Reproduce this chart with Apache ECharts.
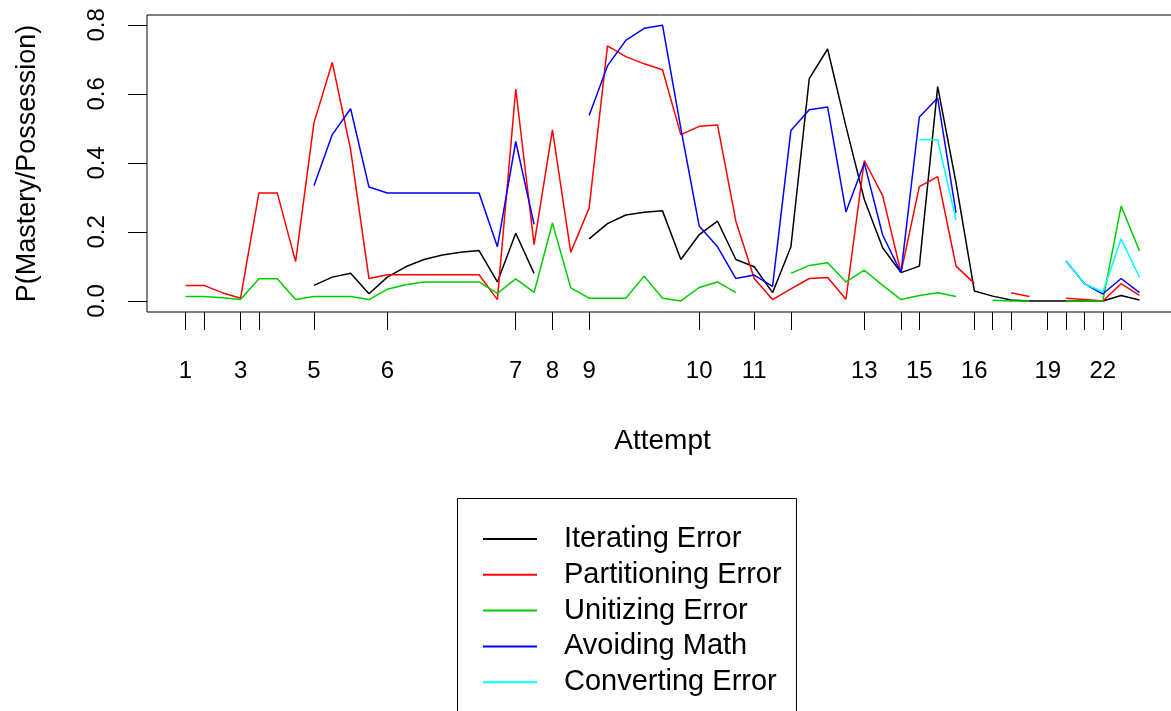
<!DOCTYPE html>
<html>
  <head>
    <meta charset="UTF-8" />
    <title>Mastery per attempt</title>
    <script src="https://cdn.jsdelivr.net/npm/echarts@6.0.0/dist/echarts.min.js"></script>
    <style>
      body { margin: 0; background: #fff; }
    </style>
  </head>
  <body>
    <div id="masteryChart" style="width: 1171px; height: 711px"></div>
  </body>
  <script>
    // x position (observation index) where each attempt starts
    const attemptStart = [1, 2, 4, 5, 8, 12, 19, 21, 23, 29, 32, 34, 38, 40, 41, 44, 45, 46, 48, 49, 50, 51, 52];
    const attemptLabels = ["1", "2", "3", "4", "5", "6", "7", "8", "9", "10", "11", "12", "13", "14", "15", "16", "17", "18", "19", "20", "21", "22", "23"];
    // R dropped the overlapping labels, only these are printed
    const shownAttempts = [1, 3, 5, 6, 7, 8, 9, 10, 11, 13, 15, 16, 19, 22];
    const yTicks = [0, 0.2, 0.4, 0.6, 0.8];

    // one value per observation 1..53, null = missing
    const iterating = [null, null, null, null, null, null, null, 0.045, 0.069, 0.080,
      0.021, 0.069, 0.099, 0.120, 0.133, 0.141, 0.146, 0.055, 0.196, 0.080,
      null, null, 0.180, 0.224, 0.249, 0.257, 0.261, 0.120, 0.192, 0.231,
      0.120, 0.099, 0.024, 0.157, 0.644, 0.730, 0.506, 0.294, 0.154, 0.082,
      0.101, 0.621, 0.342, 0.029, 0.014, 0.003, 0.0, 0.0, 0.0, 0.0,
      0.0, 0.016, 0.003];
    const partitioning = [0.045, 0.045, 0.024, 0.008, 0.313, 0.313, 0.114, 0.516, 0.691, 0.438,
      0.065, 0.076, 0.076, 0.076, 0.076, 0.076, 0.076, 0.004, 0.614, 0.163,
      0.496, 0.141, 0.269, 0.739, 0.708, 0.687, 0.670, 0.482, 0.506, 0.510,
      0.231, 0.065, 0.004, 0.035, 0.065, 0.068, 0.005, 0.407, 0.305, 0.082,
      0.331, 0.360, 0.101, 0.051, null, 0.024, 0.013, null, 0.008, 0.004,
      0.0, 0.050, 0.016];
    const unitizing = [0.013, 0.013, 0.009, 0.004, 0.064, 0.064, 0.004, 0.013, 0.013, 0.013,
      0.004, 0.034, 0.047, 0.055, 0.055, 0.055, 0.055, 0.022, 0.064, 0.025,
      0.226, 0.038, 0.008, 0.008, 0.008, 0.072, 0.008, 0.0, 0.039, 0.055,
      0.024, null, null, 0.080, 0.103, 0.111, 0.055, 0.089, 0.045, 0.004,
      0.016, 0.024, 0.013, null, 0.002, 0.0, 0.0, null, 0.0, 0.0,
      0.0, 0.275, 0.145];
    const avoiding = [null, null, null, null, null, null, null, 0.334, 0.482, 0.557,
      0.330, 0.313, 0.313, 0.313, 0.313, 0.313, 0.313, 0.157, 0.462, 0.222,
      null, null, 0.537, 0.681, 0.755, 0.790, 0.799, 0.500, 0.217, 0.157,
      0.065, 0.075, 0.042, 0.494, 0.554, 0.562, 0.258, 0.400, 0.191, 0.082,
      0.533, 0.588, 0.255, null, null, null, null, null, 0.116, 0.050,
      0.020, 0.065, 0.024];
    const converting = [null, null, null, null, null, null, null, null, null, null,
      null, null, null, null, null, null, null, null, null, null,
      null, null, null, null, null, null, null, null, null, null,
      null, null, null, null, null, null, null, null, null, null,
      0.467, 0.467, 0.234, null, null, null, null, null, 0.116, 0.050,
      0.026, 0.180, 0.068];

    const seriesNames = ["Iterating Error", "Partitioning Error", "Unitizing Error", "Avoiding Math", "Converting Error"];
    const seriesValues = [iterating, partitioning, unitizing, avoiding, converting];
    const seriesColors = ["#000000", "#FF0000", "#00CD00", "#0000FF", "#00FFFF"];

    let myChart = echarts.init(document.getElementById("masteryChart"));

    myChart.setOption({
      animation: false,
      textStyle: { fontFamily: "Liberation Sans, Arial, sans-serif", color: "#000" },
      grid: {
        left: 147,
        top: 15,
        width: 1031,
        height: 297,
        outerBoundsMode: "none",
        show: true,
        borderColor: "#000",
        borderWidth: 1,
      },
      // legend frame runs past the bottom of the picture, like the R output
      graphic: [
        {
          type: "rect",
          shape: { x: 457.5, y: 498.5, width: 339, height: 260 },
          style: { fill: "none", stroke: "#000", lineWidth: 1 },
        },
      ],
      legend: {
        data: seriesNames,
        orient: "vertical",
        left: 483,
        top: 524.5,
        padding: 0,
        icon: "rect",
        itemWidth: 54,
        itemHeight: 2,
        itemGap: 6.8,
        selectedMode: false,
        textStyle: { fontSize: 29, color: "#000", padding: [0, 0, 0, 22] },
      },
      xAxis: {
        type: "value",
        min: -1.1,
        max: 55.1,
        name: "Attempt",
        nameLocation: "middle",
        nameGap: 115,
        nameTextStyle: { fontSize: 28, color: "#000" },
        axisLine: { show: false, onZero: false },
        splitLine: { show: false },
        axisTick: {
          length: 18,
          lineStyle: { color: "#000", width: 1 },
          customValues: attemptStart,
        },
        axisLabel: {
          fontSize: 24,
          color: "#000",
          margin: 47,
          customValues: shownAttempts.map((a) => attemptStart[a - 1]),
          formatter: (v) => attemptLabels[attemptStart.indexOf(v)],
        },
      },
      yAxis: {
        type: "value",
        min: -0.032,
        max: 0.8285,
        name: "P(Mastery/Possession)",
        nameLocation: "middle",
        nameRotate: 90,
        nameGap: 106,
        nameTextStyle: { fontSize: 27, color: "#000" },
        axisLine: { show: false, onZero: false },
        splitLine: { show: false },
        axisTick: {
          show: true,
          length: 19,
          lineStyle: { color: "#000", width: 1 },
          customValues: yTicks,
        },
        axisLabel: {
          fontSize: 24,
          color: "#000",
          rotate: 90,
          margin: 38,
          customValues: yTicks,
          formatter: (v) => v.toFixed(1),
        },
      },
      series: seriesNames.map((name, k) => ({
        name: name,
        type: "line",
        symbol: "none",
        connectNulls: false,
        color: seriesColors[k],
        lineStyle: { color: seriesColors[k], width: 1.5 },
        data: seriesValues[k].map((v, i) => [i + 1, v === null ? "-" : v]),
      })),
    });
  </script>
</html>
